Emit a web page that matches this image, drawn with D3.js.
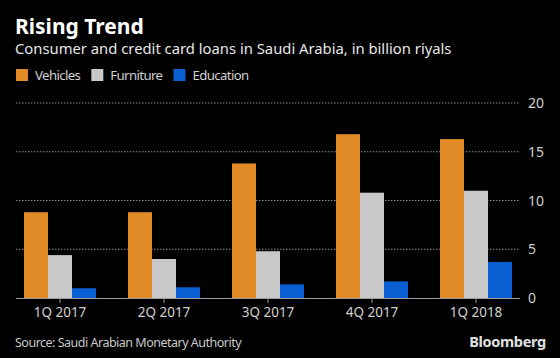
<!DOCTYPE html>
<html><head><meta charset="utf-8">
<script src="https://cdn.jsdelivr.net/npm/d3@7"></script>
<style>
html,body{margin:0;padding:0;background:#000;}
svg{display:block;}
text{font-family:"Noto Sans","Open Sans",sans-serif;}
</style></head>
<body>
<svg id="chart" width="560" height="358"></svg>
<script>
const categories = ["1Q 2017","2Q 2017","3Q 2017","4Q 2017","1Q 2018"];
const seriesNames = ["Vehicles","Furniture","Education"];
const vehicles = [8.8, 8.8, 13.8, 16.8, 16.3];
const furniture = [4.4, 4.0, 4.8, 10.8, 11.0];
const education = [1.0, 1.1, 1.4, 1.7, 3.7];
const yTicks = [0, 5, 10, 15, 20];
const colors = ["#e08b27", "#c8c8c8", "#0a5fd3"];

const seriesValues = [vehicles, furniture, education];
const svg = d3.select("#chart");
svg.append("rect").attr("width",560).attr("height",358).attr("fill","#000");

const x = d3.scaleBand().domain(categories).range([8, 528]).paddingInner(0.3077).paddingOuter(0.1538);
const xs = d3.scaleBand().domain(seriesNames).range([0, x.bandwidth()]);
const y = d3.scaleLinear().domain([0, 20]).range([298, 103]);

// gridlines
svg.append("g").selectAll("line").data(yTicks.filter(d=>d>0)).join("line")
  .attr("x1",16).attr("x2",520).attr("y1",d=>y(d)).attr("y2",d=>y(d))
  .attr("stroke","#8a8a8a").attr("stroke-width",1).attr("stroke-dasharray","1.5,1.5");

// y labels
svg.append("g").selectAll("text").data(yTicks).join("text")
  .attr("x",528).attr("y",d=>y(d)).attr("dy","0.36em")
  .attr("fill","#d0d0d0").attr("font-size",14).text(d=>d);

// bars
const groups = svg.append("g").selectAll("g").data(categories).join("g")
  .attr("transform",c=>`translate(${x(c)},0)`);
groups.selectAll("rect").data((c,i)=>seriesNames.map((s,j)=>({s, v: seriesValues[j][i], j})))
  .join("rect")
  .attr("x",d=>xs(d.s)).attr("width",xs.bandwidth())
  .attr("y",d=>y(d.v)).attr("height",d=>y(0)-y(d.v))
  .attr("fill",d=>colors[d.j]);

// baseline
svg.append("line").attr("x1",16).attr("x2",520).attr("y1",298.5).attr("y2",298.5)
  .attr("stroke","#9a9a9a").attr("stroke-width",1);
// ticks
svg.append("g").selectAll("line").data(categories).join("line")
  .attr("x1",c=>x(c)+x.bandwidth()/2).attr("x2",c=>x(c)+x.bandwidth()/2)
  .attr("y1",298).attr("y2",303).attr("stroke","#9a9a9a");
svg.append("g").selectAll("text").data(categories).join("text")
  .attr("x",c=>x(c)+x.bandwidth()/2).attr("y",317).attr("text-anchor","middle")
  .attr("fill","#d0d0d0").attr("font-size",13.5).text(c=>c);

// title
svg.append("text").attr("x",15).attr("y",34).attr("fill","#fff")
  .attr("font-size",21).attr("font-weight","bold").text("Rising Trend");
svg.append("text").attr("x",15).attr("y",54).attr("fill","#e6e6e6")
  .attr("font-size",14.8).text("Consumer and credit card loans in Saudi Arabia, in billion riyals");

// legend
const lg = svg.append("g").attr("transform","translate(16,69)");
let lx = 0;
seriesNames.forEach((s,i)=>{
  const g = lg.append("g").attr("transform",`translate(${lx},0)`);
  g.append("rect").attr("width",12).attr("height",12).attr("fill",colors[i]);
  const t = g.append("text").attr("x",19).attr("y",11).attr("fill","#d0d0d0").attr("font-size",13.2)
    .attr("letter-spacing","-0.6").text(s);
  lx += 19 + t.node().getComputedTextLength() + 11;
});

// footer
svg.append("text").attr("x",15).attr("y",347).attr("fill","#c8c8c8").attr("font-size",12.5)
  .attr("letter-spacing","-0.5").text("Source: Saudi Arabian Monetary Authority");
svg.append("text").attr("x",546).attr("y",347).attr("text-anchor","end").attr("fill","#e0e0e0")
  .attr("font-size",14.5).attr("font-weight","bold").attr("font-family","Liberation Sans, Arial, sans-serif")
  .attr("letter-spacing","-0.3").text("Bloomberg");
</script>
</body></html>
